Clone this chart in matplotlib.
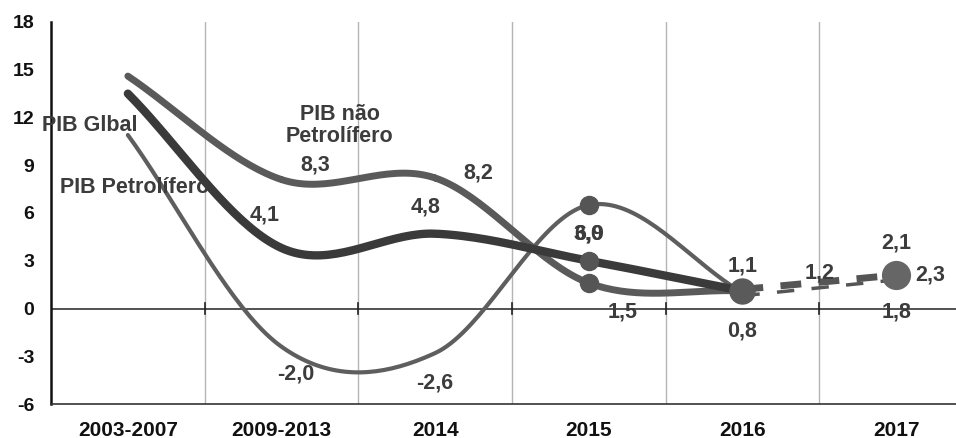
import numpy as np
import matplotlib
matplotlib.use("Agg")
from matplotlib import pyplot as plt

plt.rcParams['font.family'] = ['Liberation Sans', 'DejaVu Sans']
plt.rcParams['axes.unicode_minus'] = False

# dados
anos = ["2003-2007", "2009-2013", "2014", "2015", "2016", "2017"]
pib_nao_petro = [14.6, 8.1, 8.2, 1.6, 1.1]
pib_global = [13.5, 3.8, 4.7, 3.0, 1.1]
pib_petro = [10.9, -2.4, -2.8, 6.5, 1.0]
# troco tracejado 2016 -> 2017
proj_sup = [1.2, 2.1]
proj_inf = [0.8, 1.8]

rotulos = ["8,3", "4,1", "-2,0", "4,8", "8,2", "-2,6", "3,0", "6,9",
           "1,5", "1,1", "0,8", "1,2", "2,1", "2,3", "1,8"]
rot_x = [1.22, 0.89, 1.09, 1.94, 2.28, 2.0, 3.0, 3.0,
         3.22, 4.0, 4.0, 4.5, 5.0, 5.22, 5.0]
rot_y = [9.0, 5.85, -4.1, 6.35, 8.5, -4.65, 4.65, 4.65,
         -0.25, 2.7, -1.4, 2.25, 4.1, 2.1, -0.25]


def suave(x, y, n=40):
    # curva suavizada tipo excel (catmull-rom)
    x = np.asarray(x, float)
    y = np.asarray(y, float)
    px = np.concatenate([[2*x[0]-x[1]], x, [2*x[-1]-x[-2]]])
    py = np.concatenate([[2*y[0]-y[1]], y, [2*y[-1]-y[-2]]])
    xs, ys = [], []
    for i in range(1, len(px)-2):
        t = np.linspace(0, 1, n)
        for p, out in ((px, xs), (py, ys)):
            p0, p1, p2, p3 = p[i-1], p[i], p[i+1], p[i+2]
            out.append(0.5*((2*p1) + (-p0+p2)*t + (2*p0-5*p1+4*p2-p3)*t**2
                            + (-p0+3*p1-3*p2+p3)*t**3))
    return np.concatenate(xs), np.concatenate(ys)


fig = plt.figure(figsize=(9.56, 4.38), dpi=100)
ax = fig.add_axes([0.0534, 0.0776, 0.9466, 0.8722])

x = np.arange(len(pib_global))
cor_txt = "#3c3c3c"
fs = 15.5

# grelha vertical entre categorias
for g in np.arange(0.5, 5.0, 1.0):
    ax.axvline(g, color="#b4b4b4", lw=1, zorder=1)
    ax.plot([g, g], [-0.35, 0.35], color="#222222", lw=1.2, zorder=2)
ax.axhline(0, color="#222222", lw=1.1, zorder=2)

sx, sy = suave(x, pib_nao_petro)
ax.plot(sx, sy, color="#5a5a5a", lw=5, solid_capstyle="round", zorder=3)
sx, sy = suave(x, pib_petro)
ax.plot(sx, sy, color="#5e5e5e", lw=3, solid_capstyle="round", zorder=3)
sx, sy = suave(x, pib_global)
ax.plot(sx, sy, color="#3a3a3a", lw=6, solid_capstyle="round", zorder=4)

for serie in (pib_nao_petro, pib_petro, pib_global):
    ax.plot(x[3], serie[3], "o", ms=13, color="#555555", zorder=5)
ax.plot(x[4], pib_global[4], "o", ms=18, color="#5a5a5a", zorder=5)

ax.plot([4, 5], proj_sup, color="#555555", lw=5, dashes=(3, 2.5), zorder=4)
ax.plot([4, 5], proj_inf, color="#555555", lw=2.5, dashes=(5, 5), zorder=4)
ax.plot(5, proj_sup[1], "o", ms=20, color="#666666", zorder=5)

# nomes das series
ax.text(-0.56, 11.5, "PIB Glbal", fontsize=fs, fontweight="bold",
        color=cor_txt, va="center", ha="left", zorder=6)
ax.text(-0.44, 7.6, "PIB Petrolífero", fontsize=fs, fontweight="bold",
        color=cor_txt, va="center", ha="left", zorder=6)
ax.text(1.38, 11.5, "PIB não\nPetrolífero", fontsize=fs, fontweight="bold",
        color=cor_txt, va="center", ha="center", linespacing=1.05, zorder=6)

for t, tx, ty in zip(rotulos, rot_x, rot_y):
    ax.text(tx, ty, t, fontsize=fs, fontweight="bold", color=cor_txt,
            ha="center", va="center", zorder=6)

ax.set_xlim(-0.5, 5.39)
ax.set_ylim(-6, 18)
ax.set_yticks(np.arange(-6, 19, 3))
ax.set_xticks(np.arange(len(anos)))
ax.set_xticklabels(anos, fontsize=15, fontweight="bold", color="#111111")
ax.tick_params(axis="y", length=0, pad=12, labelsize=14, labelcolor="#111111")
ax.tick_params(axis="x", length=0, pad=12)
for lab in ax.get_yticklabels():
    lab.set_fontweight("bold")
ax.spines["top"].set_visible(False)
ax.spines["right"].set_visible(False)
ax.spines["left"].set_color("#111111")
ax.spines["left"].set_linewidth(1.8)
ax.spines["bottom"].set_color("#333333")
ax.spines["bottom"].set_linewidth(1.2)

fig.savefig("out.png", dpi=100)
